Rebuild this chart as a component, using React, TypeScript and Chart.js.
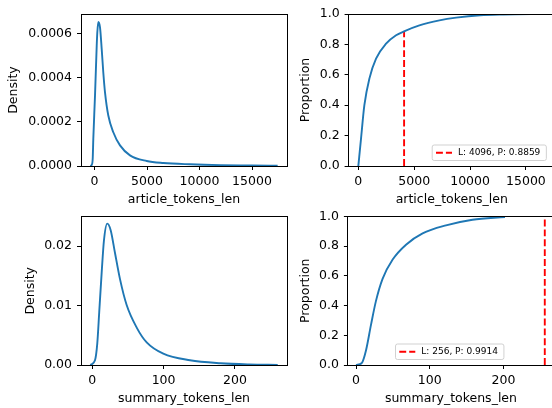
import React, { useRef, useEffect } from 'react';
import Chart from 'chart.js/auto';

Chart.defaults.font.family = "'DejaVu Sans', sans-serif";
Chart.defaults.font.size = 12.5;
Chart.defaults.color = '#000';

const BLUE = '#1f77b4';

// article_tokens_len: KDE
const articleKdeX = [-394, -267, -171, -114, 48, 210, 267, 362, 524, 686, 838, 1000, 1314, 1790, 2429, 3381, 4971, 6552, 9095, 12000, 15000, 17441];
const articleKdeY = [0, 0.000005, 0.000033, 0.000123, 0.000319, 0.000545, 0.000605, 0.000653, 0.000628, 0.00053, 0.000424, 0.000334, 0.000229, 0.000153, 0.0000935, 0.0000483, 0.0000226, 0.0000135, 0.0000077, 0.000004, 0.0000025, 0.000001];

// article_tokens_len: ECDF
const articleCdfX = [0, 242, 541, 989, 1586, 2482, 3378, 4096, 5466, 7258, 8754, 10905, 13000, 16728];
const articleCdfY = [0, 0.18, 0.4, 0.575, 0.706, 0.805, 0.86, 0.8859, 0.925, 0.958, 0.976, 0.992, 0.997, 1.0];

// summary_tokens_len: KDE
const summaryKdeX = [-2.7, 3.8, 7, 9.8, 13.2, 16.4, 21, 25.8, 31.8, 38.8, 48.2, 62.3, 76.3, 99.6, 137, 180, 220, 260];
const summaryKdeY = [0, 0.0008, 0.0036, 0.009, 0.0156, 0.021, 0.0238, 0.0227, 0.0189, 0.0145, 0.0101, 0.0063, 0.0038, 0.0019, 0.0008, 0.0003, 0.0001, 0.00002];

// summary_tokens_len: ECDF
const summaryCdfX = [0, 8, 13.6, 20.3, 27, 36, 49.7, 67.8, 90.3, 122, 158, 202];
const summaryCdfY = [0, 0.015, 0.1, 0.27, 0.43, 0.58, 0.71, 0.81, 0.886, 0.94, 0.978, 0.997];

// chosen limits and the proportion they cover
const articleLimit = 4096;
const articleLimitProp = 0.8859;
const summaryLimit = 256;
const summaryLimitProp = 0.9914;

// ticks
const articleXTicks = [0, 5000, 10000, 15000];
const summaryXTicks = [0, 100, 200];
const articleDensityTicks = [0, 0.0002, 0.0004, 0.0006];
const articleDensityLabels = ['0.0000', '0.0002', '0.0004', '0.0006'];
const summaryDensityTicks = [0, 0.01, 0.02];
const summaryDensityLabels = ['0.00', '0.01', '0.02'];
const proportionTicks = [0, 0.2, 0.4, 0.6, 0.8, 1.0];
const proportionLabels = ['0.0', '0.2', '0.4', '0.6', '0.8', '1.0'];

// draws all four spines like matplotlib
const framePlugin = {
  id: 'frame',
  afterDatasetsDraw(chart: Chart) {
    const { ctx, chartArea: a } = chart;
    const l = Math.floor(a.left) + 0.5;
    const t = Math.floor(a.top) + 0.5;
    const r = Math.floor(a.right) + 0.5;
    const b = Math.floor(a.bottom) + 0.5;
    ctx.save();
    ctx.strokeStyle = '#000';
    ctx.lineWidth = 1;
    ctx.strokeRect(l, t, r - l, b - t);
    ctx.restore();
  },
};

// small legend box for the dashed limit line
const limitLegendPlugin = {
  id: 'limitLegend',
  afterDraw(chart: Chart, _args: unknown, opts: any) {
    if (!opts || !opts.text) return;
    const { ctx, chartArea } = chart;
    ctx.save();
    ctx.font = "9px 'DejaVu Sans', sans-serif";
    const tw = ctx.measureText(opts.text).width;
    const w = 4.3 + 16 + 6 + tw + 5.5;
    const h = 15.5;
    const x = chartArea.left + opts.left;
    const y = chartArea.bottom - 6 - h;
    ctx.beginPath();
    ctx.roundRect(x + 0.5, y + 0.5, w, h, 2);
    ctx.fillStyle = 'rgba(255,255,255,0.8)';
    ctx.fill();
    ctx.strokeStyle = 'rgba(204,204,204,0.9)';
    ctx.lineWidth = 1;
    ctx.stroke();
    const cy = y + h / 2 + 0.5;
    ctx.setLineDash([6.9, 3]);
    ctx.strokeStyle = 'red';
    ctx.lineWidth = 1.9;
    ctx.beginPath();
    ctx.moveTo(x + 4.3, cy);
    ctx.lineTo(x + 20.3, cy);
    ctx.stroke();
    ctx.setLineDash([]);
    ctx.fillStyle = '#000';
    ctx.textBaseline = 'middle';
    ctx.fillText(opts.text, x + 26.3, cy);
    ctx.restore();
  },
};

interface PanelProps {
  xs: number[];
  ys: number[];
  xTicks: number[];
  xTickLabels: string[];
  yTicks: number[];
  yTickLabels: string[];
  xTitle: string;
  yTitle: string;
  xRange: [number, number];
  yRange: [number, number];
  limit?: { len: number; prop: number };
  box: { left: number; top: number; width: number; height: number };
  padTop: number;
  padRight: number;
  yAxisWidth: number;
  xAxisHeight: number;
  yTitlePad: number;
  xTitlePad: number;
  xTickPad: number;
  legendLeft?: number;
}

const Panel: React.FC<PanelProps> = (p) => {
  const canvasRef = useRef<HTMLCanvasElement>(null);
  const chartInstance = useRef<Chart | null>(null);

  useEffect(() => {
    if (!canvasRef.current) return;
    const ctx = canvasRef.current.getContext('2d');
    if (!ctx) return;
    if (chartInstance.current) chartInstance.current.destroy();

    const datasets: any[] = [
      {
        data: p.xs.map((x, i) => ({ x, y: p.ys[i] })),
        borderColor: BLUE,
        borderWidth: 1.9,
        pointRadius: 0,
        cubicInterpolationMode: 'monotone',
        fill: false,
      },
    ];
    if (p.limit) {
      datasets.push({
        data: [
          { x: p.limit.len, y: 0 },
          { x: p.limit.len, y: p.limit.prop },
        ],
        borderColor: 'red',
        borderWidth: 1.9,
        borderDash: [6.9, 3],
        pointRadius: 0,
        fill: false,
      });
    }

    const tickGrid = {
      drawOnChartArea: false,
      drawTicks: true,
      tickLength: 4,
      color: '#000',
      lineWidth: 1,
    };

    chartInstance.current = new Chart(ctx, {
      type: 'line',
      data: { datasets },
      options: {
        animation: false,
        responsive: false,
        events: [],
        layout: {
          padding: { top: p.padTop, right: p.padRight, left: 0, bottom: 0 },
          autoPadding: false,
        },
        plugins: {
          legend: { display: false },
          tooltip: { enabled: false },
          limitLegend: p.limit
            ? { text: `L: ${p.limit.len}, P: ${p.limit.prop}`, left: p.legendLeft ?? 0 }
            : { text: '' },
        } as any,
        scales: {
          x: {
            type: 'linear',
            min: p.xRange[0],
            max: p.xRange[1],
            afterBuildTicks: (s: any) => {
              s.ticks = p.xTicks.map((v) => ({ value: v }));
            },
            afterFit: (s: any) => {
              s.height = p.xAxisHeight;
            },
            ticks: {
              callback: (_v: any, i: number) => p.xTickLabels[i],
              padding: p.xTickPad,
              maxRotation: 0,
              autoSkip: false,
              color: '#000',
            },
            grid: tickGrid,
            border: { display: false },
            title: {
              display: true,
              text: p.xTitle,
              color: '#000',
              padding: { top: 0, bottom: p.xTitlePad },
            },
          },
          y: {
            type: 'linear',
            min: p.yRange[0],
            max: p.yRange[1],
            afterBuildTicks: (s: any) => {
              s.ticks = p.yTicks.map((v) => ({ value: v }));
            },
            afterFit: (s: any) => {
              s.width = p.yAxisWidth;
            },
            ticks: {
              callback: (_v: any, i: number) => p.yTickLabels[i],
              padding: 5,
              autoSkip: false,
              color: '#000',
            },
            grid: tickGrid,
            border: { display: false },
            title: {
              display: true,
              text: p.yTitle,
              color: '#000',
              padding: { top: p.yTitlePad, bottom: 0 },
            },
          },
        },
      } as any,
      plugins: [framePlugin, limitLegendPlugin],
    });

    return () => {
      if (chartInstance.current) {
        chartInstance.current.destroy();
        chartInstance.current = null;
      }
    };
  }, [p]);

  return (
    <canvas
      ref={canvasRef}
      width={p.box.width}
      height={p.box.height}
      style={{
        position: 'absolute',
        left: p.box.left,
        top: p.box.top,
        width: p.box.width,
        height: p.box.height,
      }}
    />
  );
};

const App: React.FC = () => (
  <div
    style={{
      position: 'absolute',
      left: 0,
      top: 0,
      width: 552,
      height: 408,
      overflow: 'hidden',
      background: '#fff',
    }}
  >
    <Panel
      xs={articleKdeX}
      ys={articleKdeY}
      xTicks={articleXTicks}
      xTickLabels={articleXTicks.map(String)}
      yTicks={articleDensityTicks}
      yTickLabels={articleDensityLabels}
      xTitle="article_tokens_len"
      yTitle="Density"
      xRange={[-1286, 18333]}
      yRange={[0, 0.000689]}
      box={{ left: 0, top: 0, width: 290, height: 208 }}
      padTop={14}
      padRight={3}
      yAxisWidth={81}
      xAxisHeight={42}
      yTitlePad={6.2}
      xTitlePad={0.9}
      xTickPad={4.5}
    />
    <Panel
      xs={articleCdfX}
      ys={articleCdfY}
      xTicks={articleXTicks}
      xTickLabels={articleXTicks.map(String)}
      yTicks={proportionTicks}
      yTickLabels={proportionLabels}
      xTitle="article_tokens_len"
      yTitle="Proportion"
      xRange={[-870, 17600]}
      yRange={[0, 1]}
      limit={{ len: articleLimit, prop: articleLimitProp }}
      box={{ left: 290, top: 0, width: 265, height: 208 }}
      padTop={14}
      padRight={0}
      yAxisWidth={58.6}
      xAxisHeight={42}
      yTitlePad={8.6}
      xTitlePad={0.9}
      xTickPad={4.5}
      legendLeft={83.1}
    />
    <Panel
      xs={summaryKdeX}
      ys={summaryKdeY}
      xTicks={summaryXTicks}
      xTickLabels={summaryXTicks.map(String)}
      yTicks={summaryDensityTicks}
      yTickLabels={summaryDensityLabels}
      xTitle="summary_tokens_len"
      yTitle="Density"
      xRange={[-15.8, 273]}
      yRange={[0, 0.025]}
      box={{ left: 0, top: 204, width: 290, height: 204 }}
      padTop={8.7}
      padRight={3}
      yAxisWidth={81}
      xAxisHeight={43}
      yTitlePad={23.6}
      xTitlePad={1.5}
      xTickPad={4.3}
    />
    <Panel
      xs={summaryCdfX}
      ys={summaryCdfY}
      xTicks={summaryXTicks}
      xTickLabels={summaryXTicks.map(String)}
      yTicks={proportionTicks}
      yTickLabels={proportionLabels}
      xTitle="summary_tokens_len"
      yTitle="Proportion"
      xRange={[-11, 268.5]}
      yRange={[0, 1]}
      limit={{ len: summaryLimit, prop: summaryLimitProp }}
      box={{ left: 290, top: 204, width: 264, height: 204 }}
      padTop={8.7}
      padRight={0}
      yAxisWidth={57.9}
      xAxisHeight={43}
      yTitlePad={8.6}
      xTitlePad={1.5}
      xTickPad={4.3}
      legendLeft={47.1}
    />
  </div>
);

export default App;
